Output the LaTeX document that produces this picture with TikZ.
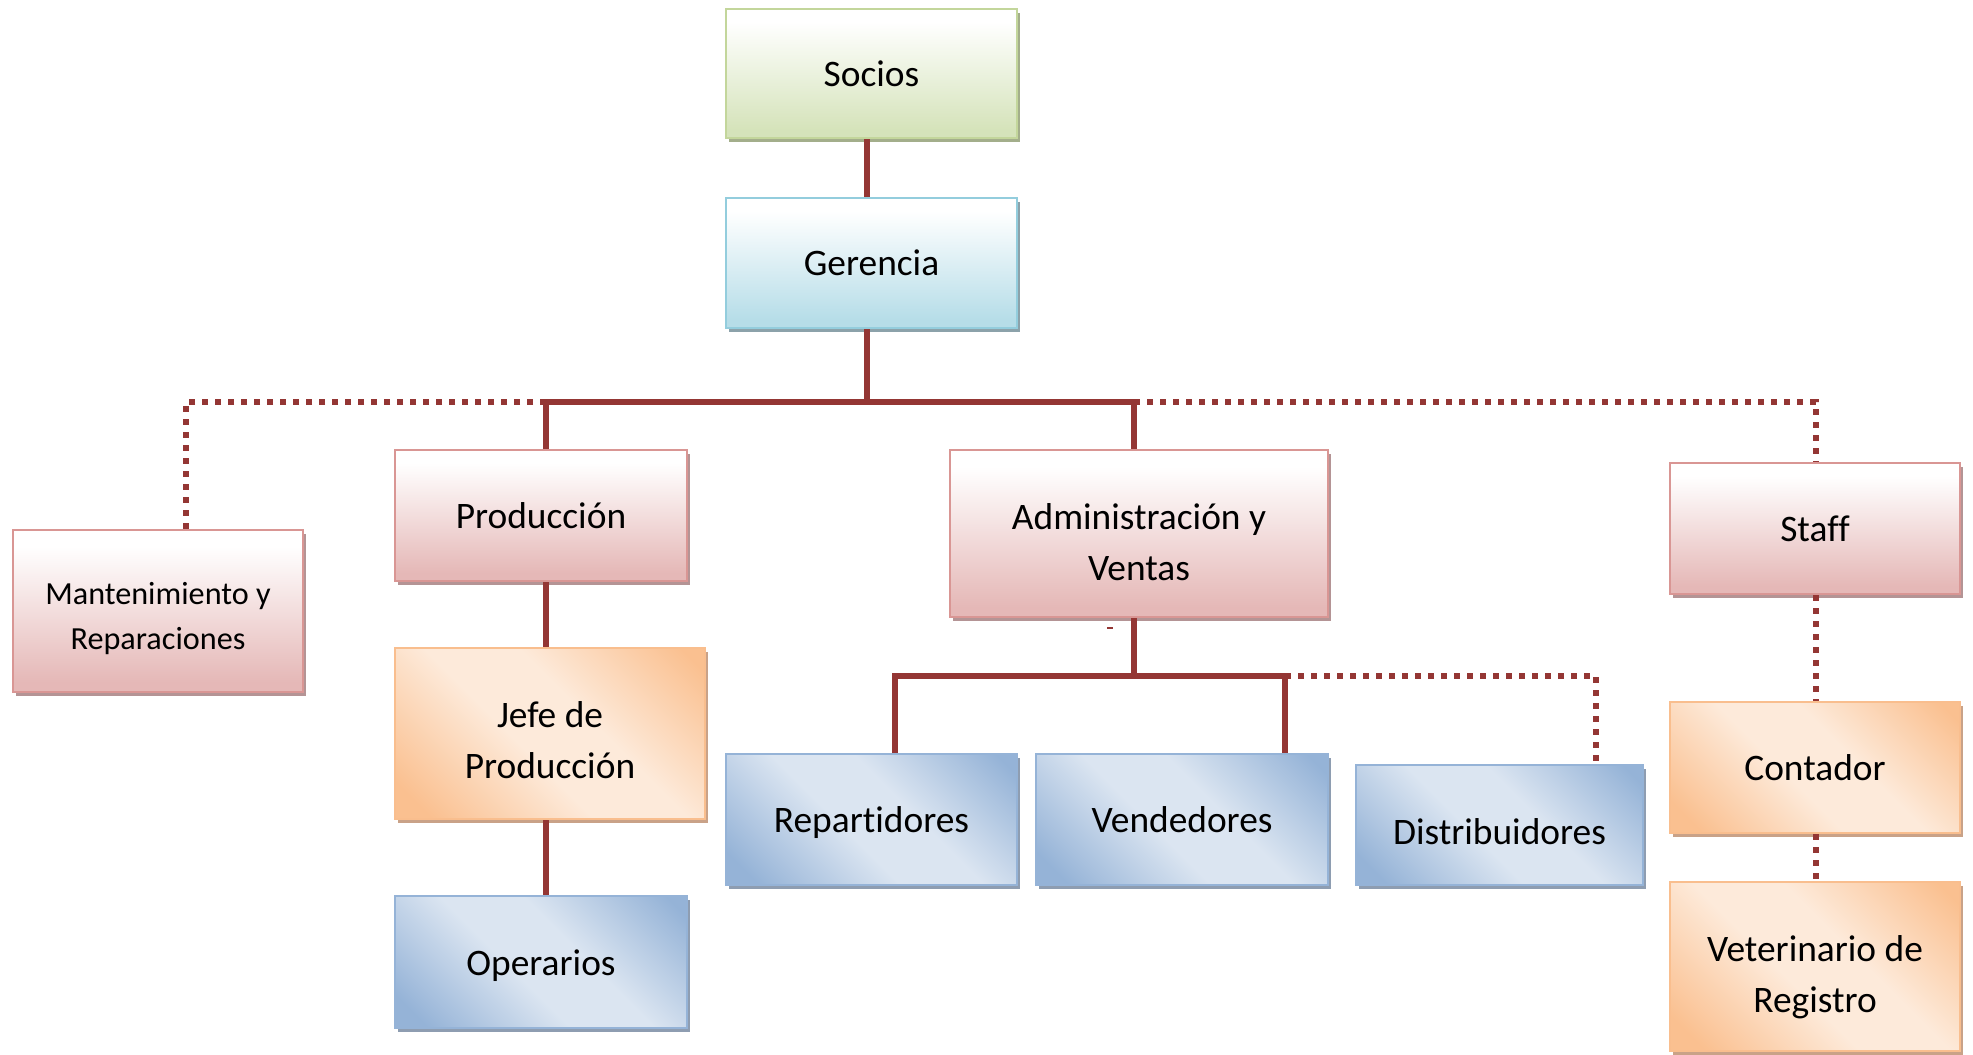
\documentclass[tikz,border=0pt]{standalone}
\usepackage{fontspec}
\setmainfont{Carlito}[Ligatures=NoCommon]
\usetikzlibrary{shadows}

% palette
\definecolor{conn}{HTML}{943634}
\definecolor{greenD}{HTML}{D5E3BA}
\definecolor{greenB}{HTML}{C3D69B}
\definecolor{greenS}{HTML}{A3AE8B}
\definecolor{cyanD}{HTML}{B6DDE8}
\definecolor{cyanB}{HTML}{93CDDD}
\definecolor{cyanS}{HTML}{8CA2AA}
\definecolor{pinkD}{HTML}{E5B8B7}
\definecolor{pinkB}{HTML}{D99694}
\definecolor{pinkS}{HTML}{B49495}
\definecolor{orD}{HTML}{FAC090}
\definecolor{orL}{HTML}{FDEADA}
\definecolor{orB}{HTML}{F9BE8E}
\definecolor{orS}{HTML}{C9A288}
\definecolor{blD}{HTML}{95B3D7}
\definecolor{blL}{HTML}{DBE5F1}
\definecolor{blB}{HTML}{95B3D7}
\definecolor{blS}{HTML}{8E9DB1}

% shadings: soft vertical fades and diagonal bands
\pgfdeclareverticalshading{greenv}{100bp}{color(0bp)=(greenD); color(28bp)=(greenD); color(70bp)=(white); color(100bp)=(white)}
\pgfdeclareverticalshading{cyanv}{100bp}{color(0bp)=(cyanD); color(28bp)=(cyanD); color(70bp)=(white); color(100bp)=(white)}
\pgfdeclareverticalshading{pinkv}{100bp}{color(0bp)=(pinkD); color(28bp)=(pinkD); color(70bp)=(white); color(100bp)=(white)}
\pgfdeclarehorizontalshading{ordiag}{100bp}{color(0bp)=(orD); color(20bp)=(orD); color(44bp)=(orL); color(58bp)=(orL); color(82bp)=(orD); color(100bp)=(orD)}
\pgfdeclarehorizontalshading{bldiag}{100bp}{color(0bp)=(blD); color(20bp)=(blD); color(44bp)=(blL); color(58bp)=(blL); color(82bp)=(blD); color(100bp)=(blD)}

\tikzset{
  bigfont/.style={font=\fontsize{18.7}{25.5}\selectfont},
  unitbox/.style={line width=1pt, inner sep=2pt, align=center, bigfont},
  lbl/.style={inner sep=0pt, align=center, bigfont},
  sz/.style 2 args={minimum width=#1*0.5pt, minimum height=#2*0.5pt},
  greenbox/.style={unitbox, draw=greenB, shade, shading=greenv,
    drop shadow={shadow xshift=1.5pt, shadow yshift=-2pt, fill=greenS, opacity=1}},
  cyanbox/.style={unitbox, draw=cyanB, shade, shading=cyanv,
    drop shadow={shadow xshift=1.5pt, shadow yshift=-2pt, fill=cyanS, opacity=1}},
  pinkbox/.style={unitbox, draw=pinkB, shade, shading=pinkv,
    drop shadow={shadow xshift=1.5pt, shadow yshift=-2pt, fill=pinkS, opacity=1}},
  orangebox/.style={unitbox, draw=orB, shade, shading=ordiag, shading angle=45,
    drop shadow={shadow xshift=1.5pt, shadow yshift=-2pt, fill=orS, opacity=1}},
  bluebox/.style={unitbox, draw=blB, shade, shading=bldiag, shading angle=45,
    drop shadow={shadow xshift=1.5pt, shadow yshift=-2pt, fill=blS, opacity=1}},
  solidline/.style={draw=conn, line width=2.8pt},
  dotline/.style={draw=conn, line width=3pt, dash pattern=on 3pt off 3.5pt},
}

\begin{document}
\begin{tikzpicture}[x=0.5pt, y=-0.5pt]
  \useasboundingbox[fill=white] (0,0) rectangle (1973,1054);

  % boxes
  \node[greenbox, sz={291}{129}] (soc) at (871.5,73.5) {Socios};
  \node[cyanbox, sz={291}{130}] (ger) at (871.5,263) {Gerencia};
  \node[pinkbox, sz={290}{162},
    label={[lbl, yshift=-3.8pt, font=\fontsize{16.1}{22.5}\selectfont]center:Mantenimiento y\\Reparaciones}] (mant) at (158,611) {};
  \node[pinkbox, sz={292}{131}] (prod) at (541,515.5) {Producción};
  \node[pinkbox, sz={378}{167},
    label={[lbl, yshift=-4.4pt]center:Administración y\\Ventas}] (adm) at (1139,533.5) {};
  \node[pinkbox, sz={290}{131}] (staff) at (1815,528.5) {Staff};
  \node[orangebox, sz={310}{171},
    label={[lbl, yshift=-3.5pt]center:Jefe de\\Producción}] (jefe) at (550,733.5) {};
  \node[bluebox, sz={292}{132},
    label={[lbl, yshift=-1.9pt]center:Operarios}] (oper) at (541,962) {};
  \node[bluebox, sz={291}{131},
    label={[lbl, yshift=-1.3pt]center:Repartidores}] (rep) at (871.5,819.5) {};
  \node[bluebox, sz={292}{131}] (ven) at (1182,819.5) {Vendedores};
  \node[bluebox, sz={287}{120},
    label={[lbl, yshift=-3.1pt]center:Distribuidores}] (dis) at (1499.5,825) {};
  \node[orangebox, sz={290}{131}] (cont) at (1815,767.5) {Contador};
  \node[orangebox, sz={290}{169},
    label={[lbl, yshift=-5.3pt]center:Veterinario de\\Registro}] (vet) at (1815,966.5) {};
  % stray hyphen under the Administración box
  \node[text=conn, inner sep=0pt] (dash) at (1110,628) {\rule{3pt}{1.3pt}};

  % branch points
  \coordinate (gJ) at (867,402);
  \coordinate (pJ) at (546,402);
  \coordinate (aJ) at (1134,402);
  \coordinate (mJ) at (186,402);
  \coordinate (sJ) at (1816,402);
  \coordinate (aJ2) at (1134,676);
  \coordinate (rJ) at (895,676);
  \coordinate (vJ) at (1285,676);
  \coordinate (dJ) at (1596,676);

  % solid reporting lines
  \draw[solidline] (soc.south -| gJ) -- (ger.north -| gJ);
  \draw[solidline] (ger.south -| gJ) -- (gJ);
  \draw[solidline] (pJ |- prod.north) -- (pJ) -- (aJ) -- (aJ |- adm.north);
  \draw[solidline] (prod.south -| pJ) -- (jefe.north -| pJ);
  \draw[solidline] (jefe.south -| pJ) -- (oper.north -| pJ);
  \draw[solidline] (adm.south -| aJ2) -- (aJ2);
  \draw[solidline] (rJ |- rep.north) -- (rJ) -- (vJ) -- (vJ |- ven.north);

  % dotted advisory lines
  \draw[dotline] (pJ) -- (mJ) -- (mJ |- mant.north);
  \draw[dotline] (aJ) -- (sJ) -- (sJ |- staff.north);
  \draw[dotline] (vJ) -- (dJ) -- (dJ |- dis.north);
  \draw[dotline] (staff.south -| sJ) -- (cont.north -| sJ);
  \draw[dotline] (cont.south -| sJ) -- (vet.north -| sJ);
\end{tikzpicture}
\end{document}
